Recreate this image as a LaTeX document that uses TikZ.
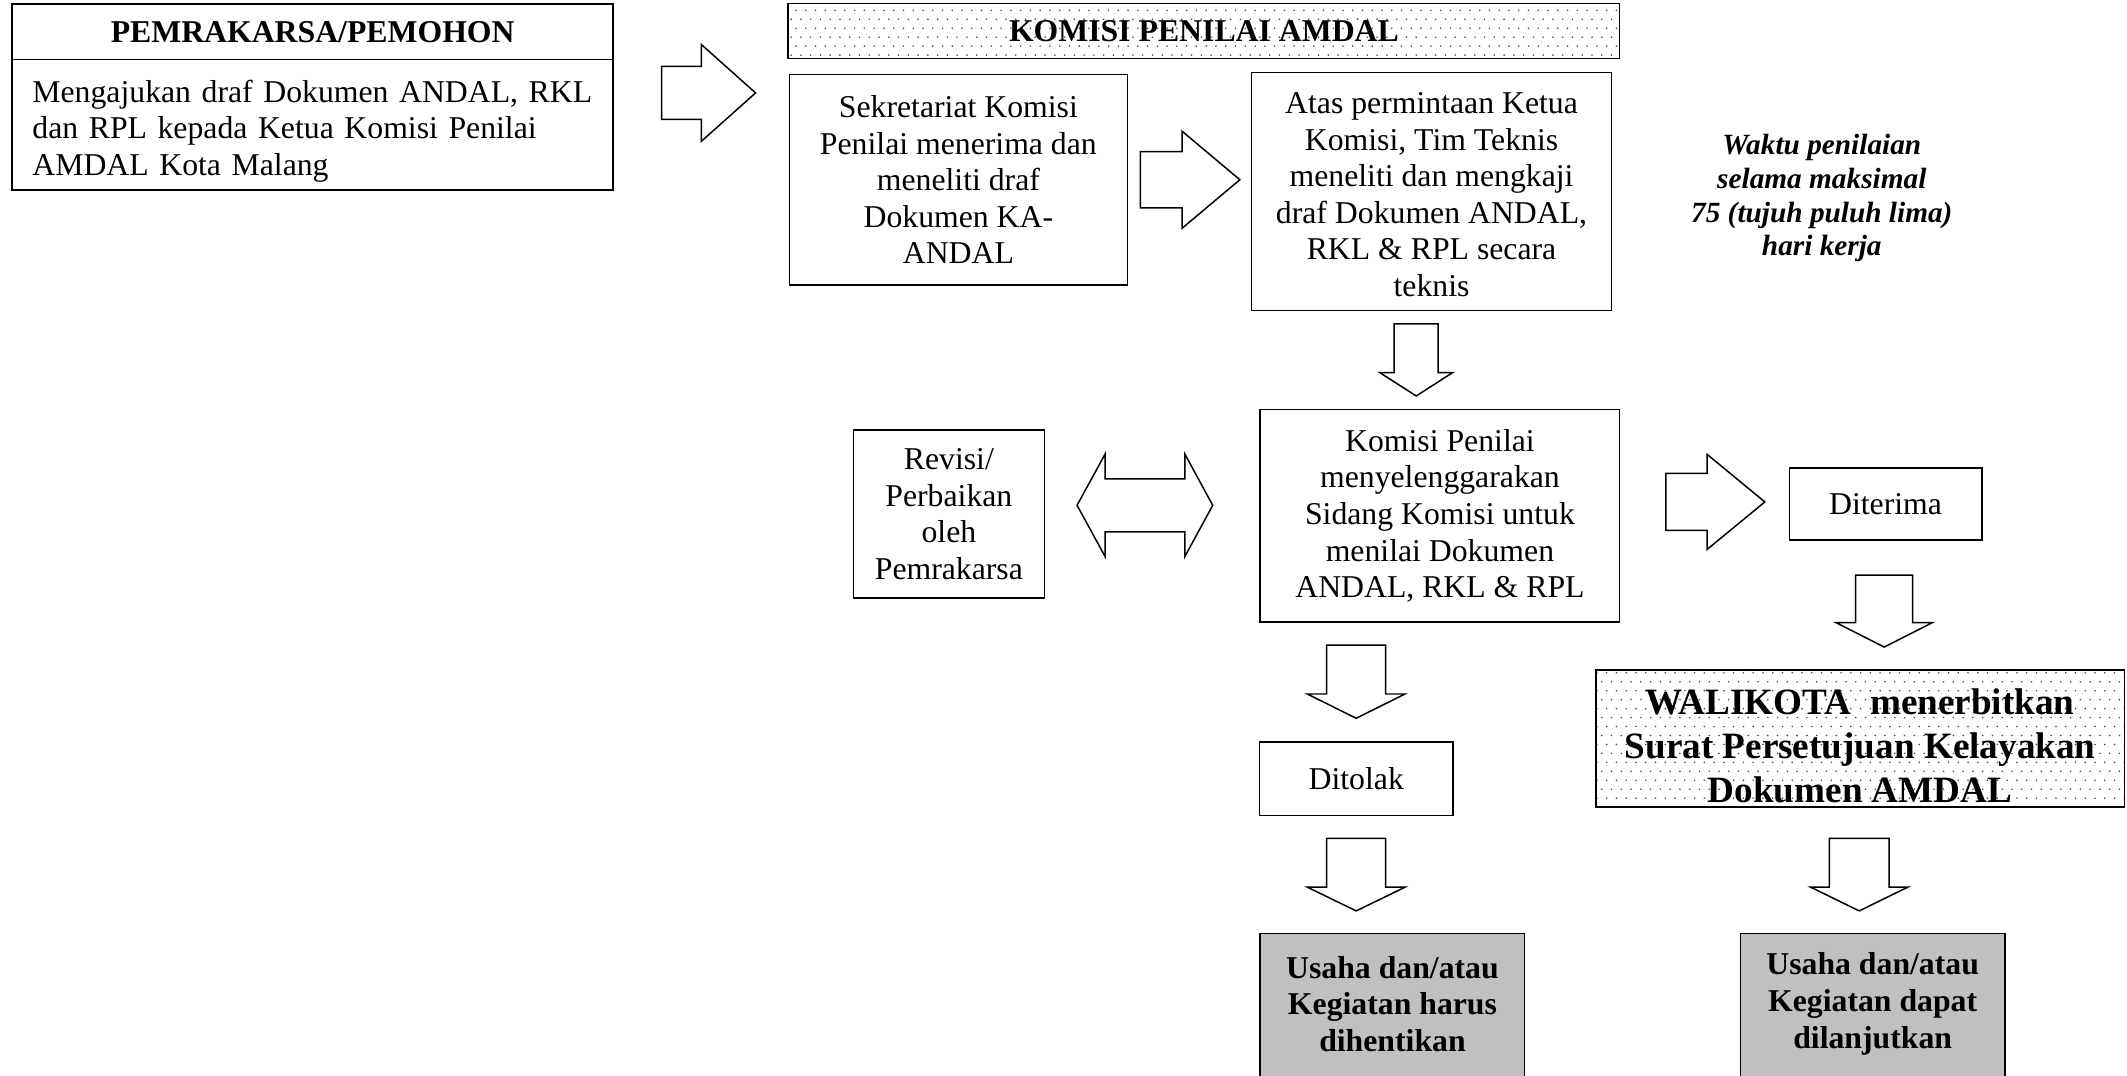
\documentclass[tikz,border=0pt]{standalone}
\usepackage{fontspec}
\setmainfont{Liberation Serif}
\usetikzlibrary{patterns.meta}
\tikzdeclarepattern{
  name=wdots,
  type=uncolored,
  bottom left={(-.5pt,-.5pt)},
  top right={(3.1pt,6.1pt)},
  tile size={(3.6pt,6.6pt)},
  code={\fill (0pt,0pt) circle (0.33pt); \fill (1.8pt,3.3pt) circle (0.33pt);}
}
\newcommand\fsn{\fontsize{11.7}{13.5}\selectfont}
\newcommand\fsw{\fontsize{10.8}{12.5}\selectfont}
\newcommand\fsb{\fontsize{13.7}{16.2}\selectfont}
% down block arrow: xm, half shaft, half head, y top, y head, y tip
\newcommand\dnarrow[6]{\draw[blk] ({#1-#2},#4) -- ({#1+#2},#4) -- ({#1+#2},#5) -- ({#1+#3},#5) -- (#1,#6) -- ({#1-#3},#5) -- ({#1-#2},#5) -- cycle;}
% right block arrow: x tail, x head, x tip, y mid, half shaft, half head
\newcommand\rtarrow[6]{\draw[blk] (#1,{#4-#5}) -- (#2,{#4-#5}) -- (#2,{#4-#6}) -- (#3,#4) -- (#2,{#4+#6}) -- (#2,{#4+#5}) -- (#1,{#4+#5}) -- cycle;}
\begin{document}
\begin{tikzpicture}[x=0.5pt,y=-0.5pt,
  box/.style={draw, line width=.55pt, inner sep=0pt, align=center, font=\fsn},
  txt/.style={inner sep=0pt, align=center, font=\fsn},
  blk/.style={draw, line width=.55pt, fill=white, line join=miter},
  dotted box/.style={box, pattern={wdots}, pattern color=black!70},
  greybox/.style={box, fill={rgb,255:red,192;green,192;blue,192}}]
\useasboundingbox (0,0) rectangle (1568,793);

% Pemrakarsa
\node[box, minimum width=221.5pt, minimum height=20.35pt] (pemhead) at (230.5,23.35) {\textbf{PEMRAKARSA/PEMOHON}};
\node[box, minimum width=221.5pt, minimum height=48.15pt] (pembody) at (230.5,91.85) {};
\node[txt, align=left, text width=206pt] (pemtext) at (229.9,96.5)
  {\makebox[206pt][s]{Mengajukan draf Dokumen ANDAL, RKL}\\
   \makebox[206pt][s]{dan RPL kepada Ketua Komisi Penilai}\\
   AMDAL Kota Malang};

% Komisi header
\node[dotted box, minimum width=306.5pt, minimum height=20.25pt] (komhead) at (887.5,22.75) {\textbf{KOMISI PENILAI AMDAL}};

% Sekretariat
\node[box, minimum width=124.5pt, minimum height=77.5pt] (sek) at (706.5,132.5)
  {Sekretariat Komisi\\Penilai menerima dan\\meneliti draf\\Dokumen KA-\\ANDAL};

% Atas permintaan
\node[box, minimum width=132.7pt, minimum height=87.7pt] (atas) at (1055.3,141.3) {};
\node[txt] (atastext) at (1055.3,143.5)
  {Atas permintaan Ketua\\Komisi, Tim Teknis\\meneliti dan mengkaji\\draf Dokumen ANDAL,\\RKL \& RPL secara\\teknis};

% Waktu
\node[txt, font=\fsw\bfseries\itshape] (waktu) at (1343,146)
  {Waktu penilaian\\selama maksimal\\75 (tujuh puluh lima)\\hari kerja};

% Komisi Penilai sidang
\node[box, minimum width=132.5pt, minimum height=78.25pt] (sidang) at (1061.5,380.25)
  {Komisi Penilai\\menyelenggarakan\\Sidang Komisi untuk\\menilai Dokumen\\ANDAL, RKL \& RPL};

% Revisi
\node[box, minimum width=70.5pt, minimum height=62pt] (revisi) at (699.5,379)
  {Revisi/\\Perbaikan\\oleh\\Pemrakarsa};

% Diterima / Ditolak
\node[box, minimum width=71pt, minimum height=26.5pt] (diterima) at (1390,371.5) {Diterima};
\node[box, minimum width=71.2pt, minimum height=27pt] (ditolak) at (999.8,574) {Ditolak};

% Walikota
\node[dotted box, minimum width=194.75pt, minimum height=50.5pt] (walikota) at (1371.25,544.5) {};
\node[txt, font=\fsb\bfseries] (walitext) at (1371.25,550)
  {WALIKOTA\ \ menerbitkan\\Surat Persetujuan Kelayakan\\Dokumen AMDAL};

% Final boxes
\node[greybox, minimum width=97.5pt, minimum height=61pt] (harus) at (1026.5,749) {};
\node[txt, font=\fsn\bfseries] (harustext) at (1026.5,740)
  {Usaha dan/atau\\Kegiatan harus\\dihentikan};
\node[greybox, minimum width=97.5pt, minimum height=61pt] (dapat) at (1380.5,749) {};
\node[txt, font=\fsn\bfseries] (dapattext) at (1380.5,740)
  {Usaha dan/atau\\Kegiatan dapat\\dilanjutkan};

% Block arrows
\rtarrow{487.7}{517}{557}{68.5}{19.5}{35.7}
\rtarrow{840.6}{871.5}{914}{132.5}{20.8}{35.7}
\rtarrow{1228}{1258.5}{1301}{370}{21}{35}
\dnarrow{1044}{16.2}{26.8}{238.8}{274.7}{291.9}
\dnarrow{999.75}{21.75}{36}{475.5}{511.6}{529.5}
\dnarrow{999.75}{21.75}{36}{618}{654}{671.5}
\dnarrow{1389}{21}{35.5}{424}{459}{477}
\dnarrow{1370.6}{22}{35.8}{618}{654}{671.5}
\draw[blk] (794,372.5) -- (814.6,334.8) -- (814.6,353) -- (873.5,353) -- (873.5,334.8)
  -- (894,372.5) -- (873.5,410.2) -- (873.5,392) -- (814.6,392) -- (814.6,410.2) -- cycle;
\end{tikzpicture}
\end{document}
